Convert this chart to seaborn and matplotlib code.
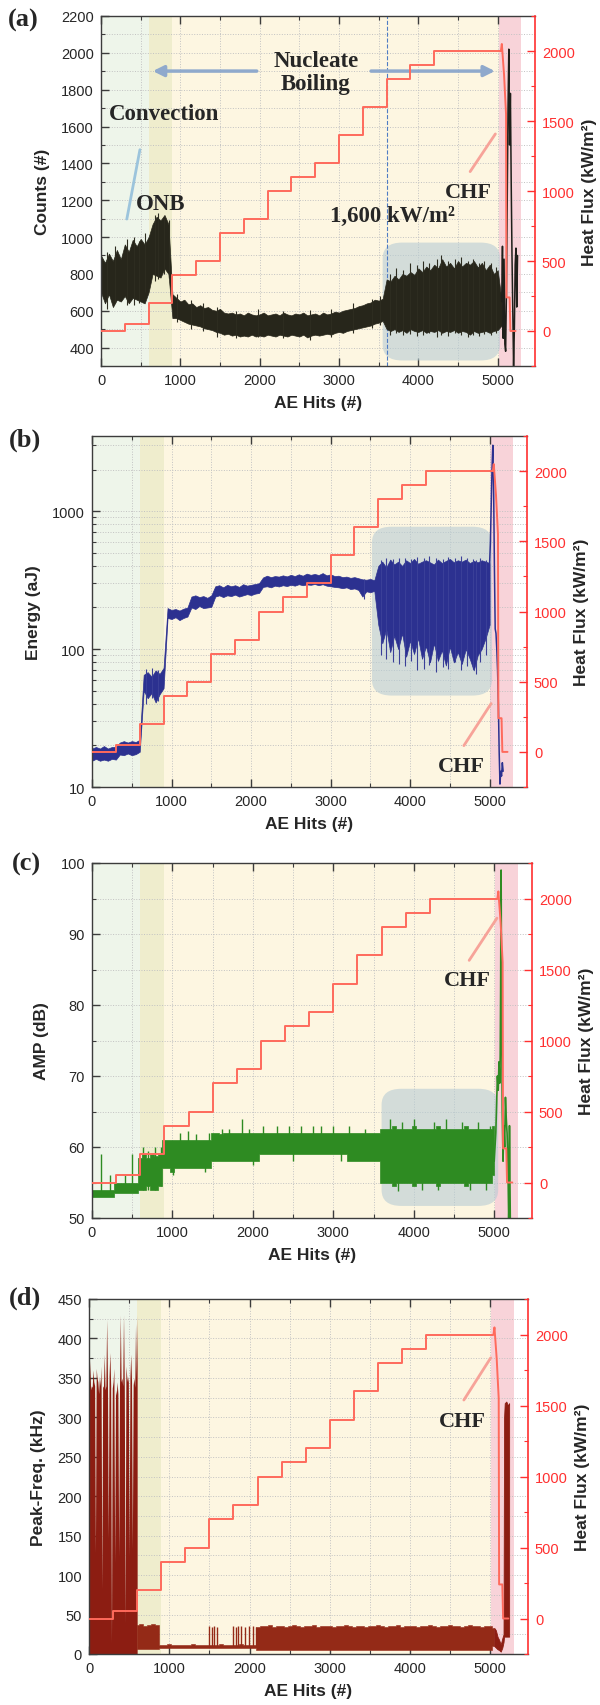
import numpy as np
import seaborn as sns
import matplotlib.pyplot as plt
from matplotlib.patches import FancyBboxPatch
from matplotlib.ticker import MultipleLocator, LogLocator, NullFormatter, FormatStrFormatter

sns.set_style('ticks')
plt.rcParams['font.family'] = ['Liberation Sans', 'DejaVu Sans']

# ---------------- data ----------------
# heat flux staircase (kW/m2), the same in every panel
hf_step_x = [0, 300, 600, 900, 1200, 1500, 1800, 2100, 2400, 2700, 3000, 3300, 3600, 3900, 4200, 5040]
hf_step_y = [0, 50, 200, 400, 500, 700, 800, 1000, 1100, 1200, 1400, 1600, 1800, 1900, 2000, 2000]
hf_tail_x = [5040, 5052, 5080, 5105, 5110, 5150, 5160, 5225]
hf_tail_y = [2000, 2050, 1830, 1550, 240, 240, 0, 0]

# regions: convection / ONB / nucleate boiling / CHF
region_edges = [0, 600, 900, 5010, 5290]

# (a) counts envelope, every 50 hits from 0
a_lo = [700, 640, 690, 620, 660, 650, 680, 640, 670, 660, 650, 640,
        700, 800, 790, 780, 830, 800,
        560, 560, 550, 540, 530, 525, 520, 515, 505, 500, 495, 485,
        480, 470, 475, 465, 470, 460, 465, 460, 470, 460,
        465, 460, 470, 465, 460, 470, 465, 460, 470, 465,
        460, 470, 455, 465, 470, 465, 470, 475, 470, 480,
        485, 480, 490, 495, 500, 505, 510, 515, 520, 530,
        535, 545,
        500, 490, 500, 485, 495, 480, 500, 490,
        485, 495, 480, 490, 485, 495, 480, 490, 485, 495,
        480, 490, 485, 470, 490, 480, 485, 490, 480, 490,
        495, 520]
a_hi = [900, 860, 910, 870, 930, 880, 960, 920, 985, 950, 990, 960,
        1000, 1070, 1110, 1090, 1120, 1070,
        690, 670, 650, 660, 635, 640, 620, 630, 615, 620, 605, 600,
        610, 590, 585, 590, 580, 585, 575, 590, 580, 575,
        580, 590, 575, 580, 585, 575, 590, 580, 575, 585,
        580, 590, 575, 580, 585, 575, 590, 580, 585, 595,
        590, 600, 605, 610, 615, 625, 630, 640, 645, 660,
        655, 665,
        770, 760, 790, 770, 800, 790, 810, 795,
        830, 810, 840, 820, 850, 830, 880, 840, 860, 830,
        870, 840, 860, 850, 870, 835, 860, 820, 850, 800,
        820, 650]
# single hits that stick out of the (a) band
a_spk_x = [80, 180, 330, 420, 480, 560, 680, 720, 790, 860,
           960, 1130, 1290, 1460, 1700, 1980, 2300, 2640, 2900, 3180, 3420, 3520,
           3640, 3720, 3810, 3890, 3980, 4060, 4140, 4230, 4290, 4370,
           4460, 4540, 4620, 4690, 4760, 4830, 4910, 4980]
a_spk_lo = [610, 640, 630, 630, 640, 700, 760, 770, 800, 780,
            540, 500, 490, 460, 450, 455, 450, 440, 460, 480, 505, 520,
            470, 480, 470, 475, 465, 470, 480, 460, 470, 465,
            480, 470, 460, 470, 465, 475, 470, 480]
a_spk_hi = [920, 950, 990, 1000, 980, 1020, 1120, 1130, 1100, 1090,
            690, 660, 640, 620, 600, 610, 600, 605, 610, 640, 665, 680,
            800, 830, 820, 860, 850, 870, 860, 880, 900, 870,
            880, 890, 870, 880, 860, 870, 860, 840]
a_tail_x = [5050, 5060, 5070, 5080, 5090, 5100, 5110, 5120, 5130, 5140, 5150,
            5160, 5170, 5180, 5190, 5200, 5210, 5220, 5230, 5240, 5250]
a_tail_y = [650, 950, 450, 880, 420, 380, 700, 1200, 1700, 2020, 1500,
            1780, 1300, 900, 600, 300, 500, 850, 940, 620, 900]

# (b) energy envelope (aJ), every 50 hits from 0
b_lo = [15.5, 16, 15.5, 15.8, 15.5, 16, 15.8, 17.2, 17, 17.5, 17, 17.3,
        18, 50, 44, 48, 41, 47,
        52, 168, 165, 170, 162, 168, 172, 200, 195, 205, 198, 200,
        202, 240, 245, 238, 245, 242, 248, 240, 245, 250,
        246, 252, 255, 282, 285, 280, 288, 284, 290, 286,
        292, 288, 295, 290, 294, 292, 296, 290, 295, 288,
        285, 282, 280, 276, 280, 272, 275, 268, 240, 262,
        258, 264,
        150, 110, 140, 95, 125, 100, 130, 88,
        115, 92, 120, 85, 105, 80, 110, 82, 98, 76,
        104, 80, 95, 78, 100, 85, 70, 90, 100, 120,
        150]
b_hi = [19, 19.5, 19, 19.8, 19, 19.5, 19.5, 21, 21.5, 21, 21.5, 21.2,
        22, 65, 68, 63, 70, 66,
        73, 198, 192, 195, 190, 196, 200, 240, 245, 238, 242, 235,
        245, 285, 290, 280, 292, 285, 290, 282, 295, 288,
        292, 296, 300, 330, 340, 332, 338, 335, 342, 336,
        345, 338, 348, 340, 352, 345, 350, 344, 355, 342,
        348, 338, 340, 332, 335, 328, 332, 326, 320, 318,
        322, 315,
        400, 430, 390, 445, 410, 430, 400, 440,
        420, 450, 415, 430, 440, 425, 410, 445, 420, 435,
        450, 425, 440, 430, 445, 420, 435, 425, 440, 430,
        420]
b_spk_x = [680, 760, 830, 3420,
           3630, 3700, 3780, 3860, 3930, 4010, 4090, 4170, 4240, 4320,
           4410, 4480, 4560, 4640, 4720, 4790, 4830, 4880, 4960]
b_spk_lo = [40, 44, 42, 232,
            90, 85, 80, 78, 75, 82, 70, 72, 76, 68,
            74, 72, 80, 70, 75, 72, 66, 80, 90]
b_spk_hi = [72, 73, 70, 320,
            440, 460, 450, 455, 460, 450, 465, 455, 470, 460,
            450, 465, 455, 470, 460, 450, 445, 455, 440]
b_tail_x = [5000, 5010, 5020, 5030, 5040, 5050, 5060, 5070, 5080, 5090,
            5100, 5110, 5120, 5130, 5140, 5150, 5160, 5170]
b_tail_y = [420, 600, 1100, 2000, 3000, 1500, 400, 140, 130, 100,
            70, 40, 18, 10.5, 13, 12, 15, 13]

# (c) amplitude envelope (dB), every 50 hits from 0
c_lo = [53, 53, 53, 53, 53, 53,
        53.5, 53.5, 53.5, 53.5, 53.5, 53.5,
        54, 54, 54.5, 54, 54, 54.5,
        57, 57, 56.5, 57, 57, 57, 57, 57, 57, 57, 57, 57,
        58, 58, 58, 58, 58, 58, 58, 58, 58, 58, 58, 58,
        59, 59, 59, 59, 59, 59, 59, 59, 59, 59,
        59, 59, 59, 59, 59, 59, 59, 59, 59, 59,
        59, 59, 58, 58, 58, 58, 58, 58, 58, 58,
        55, 55, 55, 54.5, 55, 55, 55, 55, 54.5, 55,
        55, 55, 55, 55, 54.5, 55, 55, 55, 55, 55,
        55, 54.5, 55, 55, 55, 55, 55, 55,
        56]
c_hi = [54, 54, 54, 54, 54, 54,
        55, 55, 55, 55, 55, 55,
        58.5, 59, 58.5, 59, 58.8, 59,
        61, 61, 61, 61, 61, 61, 61, 61, 61, 61, 61, 61,
        62, 62, 61.8, 62, 62, 62, 62, 62, 62, 62, 62, 62,
        62, 62, 62, 62, 62, 62, 62, 62, 62, 62,
        62, 62, 62, 62, 62, 62, 62, 62, 62, 62,
        62, 62, 62, 62, 62, 62, 62, 62, 62, 62,
        62.5, 62.5, 62.5, 63, 62.5, 62.5, 62.5, 62.5, 63, 62.5,
        62.5, 62.5, 62.5, 62.5, 63, 62.5, 62.5, 62.5, 62.5, 62.5,
        62.5, 63, 62.5, 62.5, 62.5, 62.5, 62.5, 62.5,
        63]
c_spike_x = [117, 221, 408, 500, 640, 700, 780, 860,
             1012, 1100, 1190, 1290, 1400, 1450,
             1620, 1700, 1867, 1950, 2000,
             2120, 2300, 2450, 2500, 2600, 2750, 2850, 3000, 3100, 3200, 3400,
             3700, 3800, 3850, 4000, 4100, 4250, 4300, 4400, 4600, 4700, 4800, 4900, 4950]
c_spike_lo = [53.5, 53.5, 54, 54.5, 54, 54, 54, 54.5,
              56, 60, 60, 60, 56.5, 60,
              61, 61, 61, 61, 57.5,
              61, 61, 61, 58, 61, 61, 61, 61, 58, 61, 61,
              62, 53.8, 62, 62, 54, 62, 54, 62, 62, 54, 62, 54, 62]
c_spike_hi = [59, 56, 56, 59, 60, 59.5, 60, 60,
              58, 62, 62.3, 61.8, 58, 62,
              62.5, 62.5, 64, 62.5, 59,
              63, 63, 63, 60, 63, 63, 63, 63, 60, 63, 62.5,
              64, 56, 63.5, 64, 56, 63.5, 56, 64, 63.5, 56, 63.5, 56, 63]
c_tail_x = [5000, 5020, 5030, 5040, 5050, 5060, 5070, 5075, 5080, 5086, 5092, 5100,
            5110, 5120, 5130, 5140, 5150, 5160, 5170, 5180, 5185, 5190, 5195, 5200]
c_tail_y = [58, 62, 66, 70, 68, 72, 69, 73, 82, 99, 80, 65,
            58, 63, 60, 67, 64, 62, 58, 50, 52, 63, 56, 50]

# (d) peak frequency (kHz): convection part every 10 hits from 0
d_head_hi = [320, 372, 335, 340, 338, 360, 345, 340, 128, 362,
             350, 345, 330, 352, 340, 365, 82, 340, 338, 380,
             335, 340, 424, 350, 146, 352, 382, 340, 14, 337,
             345, 362, 116, 335, 328, 345, 330, 124, 338, 430,
             345, 350, 340, 430, 338, 39, 365, 352, 345, 352,
             124, 350, 380, 345, 133, 341, 350, 338, 419, 350,
             430]
# rest every 50 hits from 600
d_lo = [6, 6, 6, 6, 6, 6,
        8, 8, 8, 8, 8, 8, 8, 8, 8, 8, 8, 8,
        8, 8, 8, 8, 8, 8, 8, 8, 8, 8, 8, 8,
        5, 5, 5, 5, 5, 5, 5, 5, 5, 5,
        5, 5, 5, 5, 5, 5, 5, 5, 5, 5,
        5, 5, 5, 5, 5, 5, 5, 5, 5, 5,
        5, 5, 5, 5, 5, 5, 5, 5, 5, 5,
        5, 5, 5, 5, 5, 5, 5, 5, 5, 5,
        5, 5, 5, 5, 5, 5, 5, 5, 5,
        10]
d_hi = [37, 38, 36, 37, 38, 37,
        11, 12, 12.5, 11.5, 12, 12, 11, 12, 12.5, 12, 11.5, 12,
        12, 11.5, 12, 12.5, 12, 11, 12, 12, 12.5, 12, 11.5, 12,
        34, 36, 35, 37, 34, 35, 36, 34, 35, 37,
        35, 34, 36, 35, 37, 34, 35, 36, 35, 34,
        36, 35, 37, 35, 34, 36, 35, 34, 36, 35,
        37, 35, 34, 36, 35, 37, 34, 35, 36, 35,
        34, 36, 35, 37, 35, 34, 36, 35, 37, 35,
        36, 34, 35, 37, 35, 36, 34, 35, 36,
        33]
d_spike_x = [1500, 1530, 1560, 1600, 1800, 1830, 1860, 1900, 1950, 1990, 2040, 2080]
d_spike_hi = [35, 34, 35, 34, 35, 34, 35, 35, 34, 35, 35, 34]
d_tail_x = [5050, 5070, 5090, 5110, 5130, 5150, 5165, 5172, 5180, 5200, 5220, 5235]
d_tail_lo = [10, 8, 6, 5, 3, 8, 15, 22, 22, 22, 22, 22]
d_tail_hi = [33, 30, 22, 18, 12, 20, 25, 300, 318, 320, 315, 318]

# ---------------- styling ----------------
RED = '#ff3030'
HF_COLOR = '#ff6a5c'
REGION_COLORS = ['#eef5ea', '#efedcd', '#fdf6e1', '#f8d3d9']
SERIF = ['Liberation Serif', 'DejaVu Serif']
W, H = 600, 1706
XMAX = 5470

fig = plt.figure(figsize=(6, 17.06), dpi=100)


def make_axes(l, r, t, b):
    return fig.add_axes([l / W, 1 - b / H, (r - l) / W, (b - t) / H])


def decorate(ax, ylabel):
    ax.set_xlim(0, XMAX)
    for i, c in enumerate(REGION_COLORS):
        ax.axvspan(region_edges[i], region_edges[i + 1], color=c, lw=0, zorder=0)
    ax.xaxis.set_major_locator(MultipleLocator(1000))
    ax.xaxis.set_minor_locator(MultipleLocator(500))
    ax.grid(which='both', ls=':', color='#c2c2c2', lw=0.7)
    for s in ['left', 'top', 'bottom']:
        ax.spines[s].set_color('#3c3c3c')
        ax.spines[s].set_linewidth(1)
    ax.spines['right'].set_visible(False)
    ax.tick_params(which='both', direction='in', top=True, right=False, color='#3c3c3c')
    ax.tick_params(which='major', length=6, width=1, labelsize=10.5, pad=5)
    ax.tick_params(which='minor', length=3, width=0.8)
    ax.set_xlabel('AE Hits (#)', fontsize=12.5, fontweight='bold', labelpad=6)
    ax.set_ylabel(ylabel, fontsize=12.5, fontweight='bold', labelpad=8)

    ax2 = ax.twinx()
    ax2.set_ylim(-250, 2250)
    ax2.yaxis.set_major_locator(MultipleLocator(500))
    ax2.yaxis.set_minor_locator(MultipleLocator(250))
    for s in ['left', 'top', 'bottom']:
        ax2.spines[s].set_visible(False)
    ax2.spines['right'].set_color(RED)
    ax2.spines['right'].set_linewidth(1.2)
    ax2.tick_params(which='both', direction='in', color=RED, labelcolor=RED)
    ax2.tick_params(which='major', length=6, width=1, labelsize=10.5, pad=5)
    ax2.tick_params(which='minor', length=3, width=0.8)
    sns.lineplot(x=hf_step_x, y=hf_step_y, ax=ax2, drawstyle='steps-post', color=HF_COLOR,
                 lw=1.4, estimator=None, sort=False)
    sns.lineplot(x=hf_tail_x, y=hf_tail_y, ax=ax2, color=HF_COLOR, lw=1.4,
                 estimator=None, sort=False)
    ax2.set_ylabel('Heat Flux (kW/m²)', fontsize=12.5, fontweight='bold', labelpad=5)
    ax2.set_xlim(0, XMAX)
    return ax2


def soft_box(ax, x0, x1, y0, y1):
    tr = ax.transData + ax.transAxes.inverted()
    (u0, v0), (u1, v1) = tr.transform([(x0, y0), (x1, y1)])
    ax.add_patch(FancyBboxPatch((u0, v0), u1 - u0, v1 - v0,
                                boxstyle='round,pad=0,rounding_size=0.045',
                                transform=ax.transAxes, fc='#b7ccd4', ec='none',
                                alpha=0.6, zorder=0.8))


def chf(ax2, tx, ty, x0, y0, x1, y1):
    ax2.annotate('', xy=(x1, y1), xytext=(x0, y0),
                 arrowprops=dict(arrowstyle='-', color='#f7a399', lw=2))
    ax2.text(tx, ty, 'CHF', ha='center', va='center', fontsize=16,
             fontweight='bold', family=SERIF)


def grid50(vals, start=0):
    return np.arange(len(vals)) * 50 + start


# ---------------- (a) counts ----------------
ax = make_axes(101, 535, 17, 367)
ax.set_ylim(300, 2200)
ax.yaxis.set_major_locator(MultipleLocator(200))
ax.yaxis.set_minor_locator(MultipleLocator(100))
ax2 = decorate(ax, 'Counts (#)')
soft_box(ax, 3550, 5030, 330, 970)
ax.fill_between(grid50(a_lo), a_lo, a_hi, color='#27261b', lw=0.5, zorder=2)
ax.vlines(a_spk_x, a_spk_lo, a_spk_hi, color='#2d2c20', lw=0.8, zorder=2)
sns.lineplot(x=a_tail_x, y=a_tail_y, ax=ax, color='#1f1f1a', lw=1.1,
             estimator=None, sort=False, zorder=2)
ax.axvline(3600, color='#4f7cc4', ls='--', lw=0.8, zorder=1)
ax.text(2708, 1895, 'Nucleate\nBoiling', ha='center', va='center', fontsize=16.5,
        fontweight='bold', family=SERIF, linespacing=1.15)
arrow = dict(arrowstyle='-|>', color='#8fa9cc', lw=2.5, mutation_scale=16)
ax.annotate('', xy=(618, 1901), xytext=(1998, 1901), arrowprops=arrow)
ax.annotate('', xy=(5000, 1901), xytext=(3369, 1901), arrowprops=arrow)
ax.text(792, 1668, 'Convection', ha='center', va='center', fontsize=16.5,
        fontweight='bold', family=SERIF)
ax.annotate('', xy=(319, 1083), xytext=(497, 1489),
            arrowprops=dict(arrowstyle='-', color='#9cc4dc', lw=2))
ax.text(753, 1180, 'ONB', ha='center', va='center', fontsize=16.5,
        fontweight='bold', family=SERIF)
ax.text(3673, 1119, '1,600 kW/m²', ha='center', va='center', fontsize=16.5,
        fontweight='bold', family=SERIF)
chf(ax2, 4624, 995, 4633, 1122, 4990, 1424)

# ---------------- (b) energy ----------------
ax = make_axes(92, 527, 437, 788)
ax.set_yscale('log')
ax.set_ylim(10, 3500)
ax.yaxis.set_major_locator(LogLocator(base=10))
ax.yaxis.set_minor_locator(LogLocator(base=10, subs=np.arange(2, 10)))
ax.yaxis.set_major_formatter(FormatStrFormatter('%d'))
ax.yaxis.set_minor_formatter(NullFormatter())
ax2 = decorate(ax, 'Energy (aJ)')
soft_box(ax, 3520, 5030, 46, 770)
ax.fill_between(grid50(b_lo), b_lo, b_hi, color='#2c3190', lw=0.5, zorder=2)
ax.vlines(b_spk_x, b_spk_lo, b_spk_hi, color='#3a3f98', lw=0.8, zorder=2)
sns.lineplot(x=b_tail_x, y=b_tail_y, ax=ax, color='#2c3190', lw=1.1,
             estimator=None, sort=False, zorder=2)
chf(ax2, 4643, -102, 4657, 28, 5038, 361)

# ---------------- (c) amplitude ----------------
ax = make_axes(92, 532, 864, 1219)
ax.set_ylim(50, 100)
ax.yaxis.set_major_locator(MultipleLocator(10))
ax.yaxis.set_minor_locator(MultipleLocator(5))
ax2 = decorate(ax, 'AMP (dB)')
soft_box(ax, 3600, 5050, 51.7, 68.2)
ax.fill_between(grid50(c_lo), c_lo, c_hi, step='mid', color='#2e8b22', lw=0.5, zorder=2)
ax.vlines(c_spike_x, c_spike_lo, c_spike_hi, color='#2e8b22', lw=1, zorder=2)
sns.lineplot(x=c_tail_x, y=c_tail_y, ax=ax, color='#2e8b22', lw=1.2,
             estimator=None, sort=False, zorder=2)
chf(ax2, 4670, 1424, 4670, 1548, 5053, 1878)

# ---------------- (d) peak frequency ----------------
ax = make_axes(89, 528, 1300, 1655)
ax.set_ylim(0, 450)
ax.yaxis.set_major_locator(MultipleLocator(50))
ax.yaxis.set_minor_locator(MultipleLocator(25))
ax2 = decorate(ax, 'Peak-Freq. (kHz)')
head_x = np.arange(len(d_head_hi)) * 10
ax.fill_between(head_x, 0, d_head_hi, color='#8c1d12', lw=0, zorder=2)
ax.fill_between(grid50(d_lo, 600), d_lo, d_hi, step='mid', color='#942a17', lw=0.4, zorder=2)
ax.vlines(d_spike_x, 10, d_spike_hi, color='#942a17', lw=1, zorder=2)
ax.fill_between(d_tail_x, d_tail_lo, d_tail_hi, color='#8c1d12', lw=0.6, zorder=2)
chf(ax2, 4652, 1393, 4652, 1522, 5024, 1852)

# panel letters
for lab, (px, py) in zip(['(a)', '(b)', '(c)', '(d)'],
                         [(23, 20), (25, 440), (26, 864), (25, 1298)]):
    fig.text(px / W, 1 - py / H, lab, ha='center', va='center', fontsize=19,
             fontweight='bold', family=SERIF)

fig.savefig('out.png', dpi=100)
